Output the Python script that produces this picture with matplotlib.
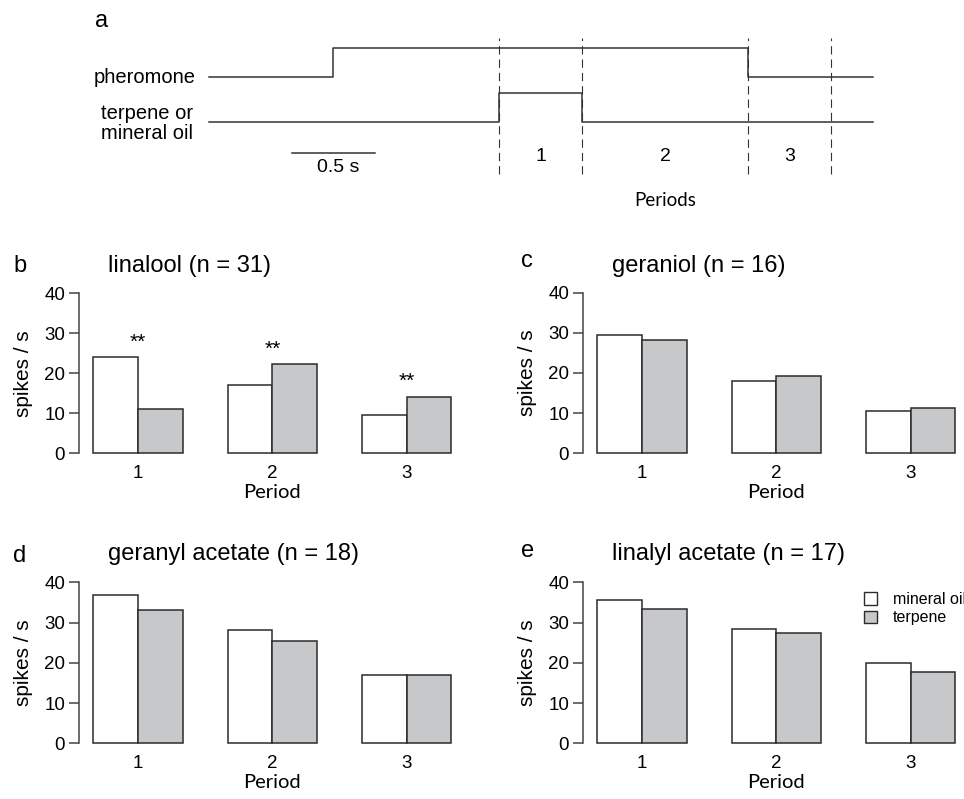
import numpy as np
import matplotlib
matplotlib.use("Agg")
import matplotlib.pyplot as plt
from matplotlib.patches import Patch

plt.rcParams["font.family"] = ["Liberation Sans", "DejaVu Sans"]
LABEL_FONT = ["Lato", "DejaVu Sans"]

# ---- data ---------------------------------------------------------------
periods = ["1", "2", "3"]
odours = ["linalool", "geraniol", "geranyl acetate", "linalyl acetate"]
n_cells = [31, 16, 18, 17]
panel_letters = ["b", "c", "d", "e"]

linalool_oil = [24.1, 17.1, 9.7]
linalool_terp = [11.0, 22.3, 14.2]
geraniol_oil = [29.4, 18.1, 10.6]
geraniol_terp = [28.3, 19.2, 11.2]
geranyl_oil = [36.8, 28.2, 17.0]
geranyl_terp = [33.0, 25.3, 17.0]
linalyl_oil = [35.5, 28.4, 20.0]
linalyl_terp = [33.3, 27.5, 17.6]
significant = [[True, True, True], [False] * 3, [False] * 3, [False] * 3]

# stimulus timing (s) for panel a
pheromone_t = [-0.75, 0.0, 2.5, 3.25]
pheromone_on = [0, 1, 0, 0]
terpene_t = [-0.75, 1.0, 1.5, 3.25]
terpene_on = [0, 1, 0, 0]
period_edges = [1.0, 1.5, 2.5, 3.0]
scalebar = [-0.25, 0.25]

W, H = 964, 799
fig = plt.figure(figsize=(W / 100, H / 100), dpi=100)


def px_axes(left, top, width, height):
    return fig.add_axes([left / W, 1 - (top + height) / H, width / W, height / H])


def ftext(x, y, s, **kw):
    fig.text(x / W, 1 - y / H, s, **kw)


# ---- panel a: stimulus protocol -----------------------------------------
axa = px_axes(0, 0, W, 220)
axa.set_xlim(-2.006, 3.80)
axa.set_ylim(-2.17, 2.72)
axa.axis("off")
amp = 0.65
line_c = "#333333"
axa.step(pheromone_t, np.array(pheromone_on) * amp + 1, where="post", color=line_c, lw=1.1)
axa.step(terpene_t, np.array(terpene_on) * amp, where="post", color=line_c, lw=1.1)
axa.vlines(period_edges, -1.15, 1.87, colors=line_c, lw=0.8, linestyles=(0, (7.5, 4.5)))
axa.plot(scalebar, [-0.67, -0.67], color=line_c, lw=1.1)
axa.text(np.mean(scalebar) + 0.03, -1.0, "0.5 s", ha="center", va="center", fontsize=14)
axa.text(-0.83, 1.0, "pheromone", ha="right", va="center", fontsize=14.5)
axa.text(-1.12, -0.03, "terpene or\nmineral oil", ha="center", va="center",
         fontsize=14.5, linespacing=1.1)
for i, lab in enumerate(periods):
    mid = [(1.0 + 1.5) / 2, (1.5 + 2.5) / 2, (2.5 + 3.0) / 2][i]
    axa.text(mid, -0.75, lab, ha="center", va="center", fontsize=14)
axa.text(2.0, -1.73, "Periods", ha="center", va="center", fontsize=13.5, family=LABEL_FONT)
ftext(95, 27, "a", fontsize=17, va="baseline")

# ---- panels b-e: bar charts ---------------------------------------------
oil_vals = [linalool_oil, geraniol_oil, geranyl_oil, linalyl_oil]
terp_vals = [linalool_terp, geraniol_terp, geranyl_terp, linalyl_terp]
lefts = [79, 583, 79, 583]
zeros = [453.3, 453.3, 743.3, 743.3]
ppu = [4.0, 4.015, 4.025, 4.025]
title_base = [272, 272, 560, 560]
letter_base = [272, 267, 562, 557]
unit = 44.75
grey = "#c7c8ca"
edge = "#2b2b2b"

x_oil = np.arange(3) * 3 + 1
x_terp = x_oil + 1

for k in range(4):
    height = 43.2 * ppu[k]
    top = zeros[k] + 1.6 * ppu[k] - height
    ax = px_axes(lefts[k], top, 8.64 * unit, height)
    ax.bar(x_oil, oil_vals[k], width=1, align="edge", color="white", edgecolor=edge, lw=1.1)
    ax.bar(x_terp, terp_vals[k], width=1, align="edge", color=grey, edgecolor=edge, lw=1.1)
    ax.set_xlim(0.68, 9.32)
    ax.set_ylim(-1.6, 41.6)
    for s in ["top", "right", "bottom"]:
        ax.spines[s].set_visible(False)
    ax.spines["left"].set_bounds(0, 40)
    ax.spines["left"].set_color("#444444")
    ax.spines["left"].set_linewidth(1.1)
    ax.set_yticks([0, 10, 20, 30, 40])
    ax.tick_params(axis="y", direction="out", length=7, width=1.1, color="#444444",
                   labelsize=13.5, pad=3)
    ax.set_xticks(x_terp)
    ax.set_xticklabels(periods)
    ax.tick_params(axis="x", length=0, labelsize=13.5, pad=4)
    ax.set_xlabel("Period", family=LABEL_FONT, fontsize=14.5, labelpad=1.5)
    ax.set_ylabel("spikes / s", fontsize=15)
    ax.yaxis.set_label_coords(-46 / (8.64 * unit), 0.5)
    ax.patch.set_visible(False)

    for i in range(3):
        if significant[k][i]:
            ax.annotate("**", xy=(x_terp[i], max(oil_vals[k][i], terp_vals[k][i])),
                        xytext=(0, 4), textcoords="offset points",
                        ha="center", va="bottom", fontsize=15)

    ftext(lefts[k] + 29, title_base[k], f"{odours[k]} (n = {n_cells[k]})",
          fontsize=17, va="baseline", ha="left")
    ftext(13 if lefts[k] < 300 else 521, letter_base[k], panel_letters[k],
          fontsize=17, va="baseline")

    if k == 3:
        handles = [Patch(facecolor="white", edgecolor=edge, lw=1.0),
                   Patch(facecolor=grey, edgecolor=edge, lw=1.0)]
        ax.legend(handles, ["mineral oil", "terpene"], loc="upper left",
                  bbox_to_anchor=(864 / W, 1 - 592 / H), bbox_transform=fig.transFigure,
                  frameon=False, fontsize=11.5, handlelength=0.8, handleheight=0.8,
                  handletextpad=1.0, labelspacing=0.2, borderpad=0, borderaxespad=0)

fig.savefig("out.png", dpi=100, facecolor="white")
